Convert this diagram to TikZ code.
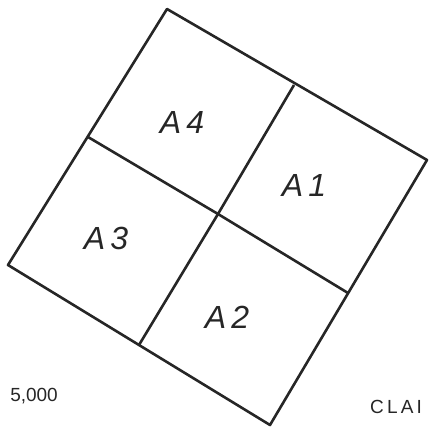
\documentclass[tikz,border=0pt]{standalone}
\usepackage{fontspec}
\setmainfont{Liberation Sans}
\usetikzlibrary{positioning}

\begin{document}
\begin{tikzpicture}[x=1pt, y=-1pt, line join=round,
  every node/.style={inner sep=0pt},
  plotline/.style={line width=2.6pt, black!85},
  plotlabel/.style={font=\fontsize{32}{32}\selectfont\itshape, black!85},
  marginnote/.style={font=\fontsize{19}{19}\selectfont, black!85}]
  \useasboundingbox (0,0) rectangle (429,428);

  % Corners of the plot
  \coordinate (top) at (167, 9);
  \coordinate (right) at (427, 160);
  \coordinate (bottom) at (270, 425);
  \coordinate (left) at (8, 265);
  \coordinate (mid) at (218, 214);

  % Edge midpoints
  \coordinate (tl) at (88, 137);
  \coordinate (tr) at (294, 85);
  \coordinate (br) at (348, 293);
  \coordinate (bl) at (139, 345);

  % Outer square
  \draw[plotline] (top) -- (right) -- (bottom) -- (left) -- cycle;

  % Dividing lines
  \draw[plotline] (tr) -- (mid) -- (bl);
  \draw[plotline] (tl) -- (mid) -- (br);

  % Sub-plot labels
  \node[plotlabel] (a4) at (182, 122) {A\,4};
  \node[plotlabel] (a1) at (304, 185) {A\,1};
  \node[plotlabel] (a3) at (106, 238) {A\,3};
  \node[plotlabel] (a2) at (227, 317) {A\,2};

  % Margin text
  \node[marginnote, anchor=east] (scale) at (58, 396) {5,000};
  \node[marginnote, anchor=west] (name) at (370, 407) {C\,L\,A\,I};
\end{tikzpicture}
\end{document}
